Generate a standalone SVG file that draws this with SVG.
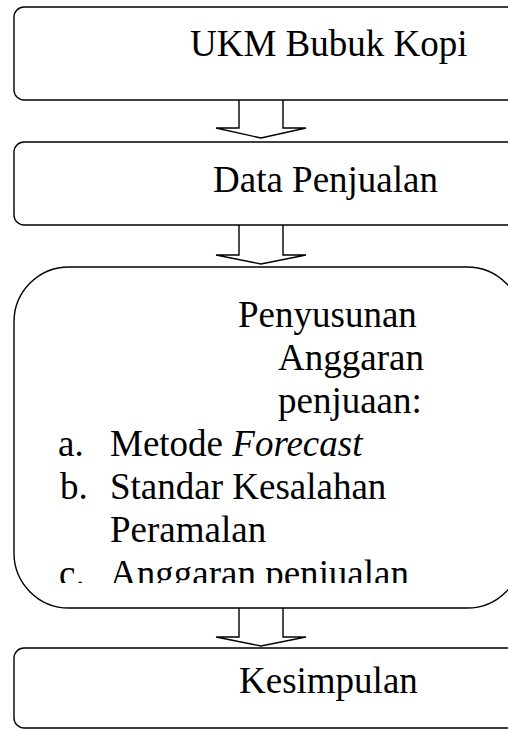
<svg xmlns="http://www.w3.org/2000/svg" width="508" height="729" viewBox="0 0 508 729">
  <style>
    .box { fill: #ffffff; stroke: #000000; stroke-width: 1.4; }
    .arrow { fill: #ffffff; stroke: #000000; stroke-width: 1.4; stroke-linejoin: miter; }
    .label { font-family: "Liberation Serif", "Times New Roman", serif; font-size: 37px; fill: #000000; }
    .em { font-style: italic; }
  </style>
  <defs>
    <clipPath id="clip-budget">
      <rect x="14" y="268" width="508" height="315"/>
    </clipPath>
  </defs>
  <rect width="508" height="729" fill="#ffffff"/>

  <!-- block arrows between the stages -->
  <g id="connectors">
    <path class="arrow" d="M239,100 V128 H216 L261,138 L306,128 H283 V100"/>
    <path class="arrow" d="M239,225 V255 H216 L261,264 L306,255 H283 V225"/>
    <path class="arrow" d="M239,608 V637 H216 L261,646 L306,637 H283 V608"/>
  </g>

  <g id="ukm">
    <rect class="box" x="14" y="7" width="510" height="93" rx="10" ry="10"/>
    <text class="label" x="190" y="56">UKM Bubuk Kopi</text>
  </g>

  <g id="data-penjualan">
    <rect class="box" x="14" y="142" width="510" height="83" rx="10" ry="10"/>
    <text class="label" x="213" y="192">Data Penjualan</text>
  </g>

  <g id="penyusunan-anggaran">
    <rect class="box" x="14" y="267" width="508" height="341" rx="55" ry="55"/>
    <g clip-path="url(#clip-budget)">
      <text class="label" x="238" y="327">Penyusunan</text>
      <text class="label" x="278" y="370">Anggaran</text>
      <text class="label" x="278" y="413">penjuaan:</text>
      <text class="label" x="58" y="456">a.</text>
      <text class="label" x="110" y="456">Metode <tspan class="em">Forecast</tspan></text>
      <text class="label" x="60" y="499">b.</text>
      <text class="label" x="110" y="499">Standar Kesalahan</text>
      <text class="label" x="110" y="542">Peramalan</text>
      <text class="label" x="59" y="586">c.</text>
      <text class="label" x="110" y="586">Anggaran penjualan</text>
    </g>
  </g>

  <g id="kesimpulan">
    <rect class="box" x="14" y="648" width="510" height="80" rx="10" ry="10"/>
    <text class="label" x="239" y="693">Kesimpulan</text>
  </g>
</svg>
